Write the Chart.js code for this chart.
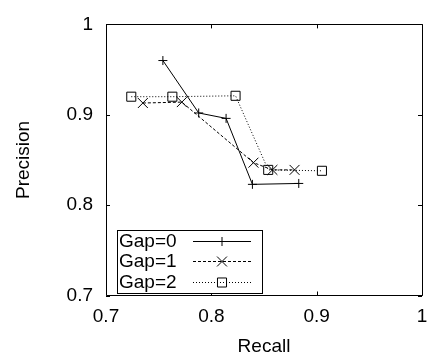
<!DOCTYPE html>
<html><head><meta charset="utf-8">
<script src="https://cdn.jsdelivr.net/npm/chart.js@4/dist/chart.umd.min.js"></script>
<style>html,body{margin:0;padding:0;background:#fff}#wrap{width:438px;height:358px}</style>
</head><body><div id="wrap"><canvas id="c" width="438" height="358"></canvas></div>
<script>
const seriesNames = ['Gap=0', 'Gap=1', 'Gap=2'];
const gap0Recall = [0.754, 0.788, 0.814, 0.839, 0.883];
const gap0Precision = [0.960, 0.902, 0.896, 0.823, 0.824];
const gap1Recall = [0.735, 0.772, 0.840, 0.858, 0.879];
const gap1Precision = [0.913, 0.914, 0.847, 0.839, 0.839];
const gap2Recall = [0.724, 0.763, 0.823, 0.854, 0.905];
const gap2Precision = [0.920, 0.920, 0.921, 0.839, 0.838];
const xTickValues = [0.7, 0.8, 0.9, 1.0];
const xTickLabels = ['0.7', '0.8', '0.9', '1'];
const yTickValues = [0.7, 0.8, 0.9, 1.0];
const yTickLabels = ['0.7', '0.8', '0.9', '1'];

const FONT = "'Liberation Sans', Arial, Helvetica, sans-serif";
const toPts = (xs, ys) => xs.map((x, i) => ({x: x, y: ys[i]}));

const styles = [
  {dash: [], pointStyle: 'cross', radius: 4.5},
  {dash: [3, 2], pointStyle: 'crossRot', radius: 7},
  {dash: [1, 2], pointStyle: 'rect', radius: 6.4}
];
const seriesData = [
  toPts(gap0Recall, gap0Precision),
  toPts(gap1Recall, gap1Precision),
  toPts(gap2Recall, gap2Precision)
];

const datasets = seriesNames.map((name, i) => ({
  label: name,
  data: seriesData[i],
  showLine: true,
  borderColor: '#000',
  borderWidth: 1,
  borderDash: styles[i].dash,
  pointStyle: styles[i].pointStyle,
  pointRadius: styles[i].radius,
  pointHoverRadius: styles[i].radius,
  pointBorderColor: '#000',
  pointBackgroundColor: 'rgba(0,0,0,0)',
  pointBorderWidth: 1,
  tension: 0,
  fill: false
}));

const framePlugin = {
  id: 'frame',
  afterDraw(chart) {
    const ctx = chart.ctx, a = chart.chartArea;
    const xs = chart.scales.x, ys = chart.scales.y;
    ctx.save();
    ctx.strokeStyle = '#000';
    ctx.lineWidth = 1;
    ctx.setLineDash([]);
    ctx.beginPath();
    ctx.rect(Math.round(a.left) + 0.5, Math.round(a.top) + 0.5, Math.round(a.right - a.left), Math.round(a.bottom - a.top));
    ctx.stroke();
    const tl = 4;
    ctx.beginPath();
    xTickValues.forEach(v => {
      const px = Math.round(xs.getPixelForValue(v)) + 0.5;
      ctx.moveTo(px, a.bottom); ctx.lineTo(px, a.bottom - tl);
      ctx.moveTo(px, a.top); ctx.lineTo(px, a.top + tl);
    });
    yTickValues.forEach(v => {
      const py = Math.round(ys.getPixelForValue(v)) + 0.5;
      ctx.moveTo(a.left, py); ctx.lineTo(a.left + tl, py);
      ctx.moveTo(a.right, py); ctx.lineTo(a.right - tl, py);
    });
    ctx.stroke();

    // legend
    const bx = 117.5, by = 230.5, bw = 145, bh = 63;
    ctx.fillStyle = '#fff';
    ctx.fillRect(bx, by, bw, bh);
    ctx.strokeRect(bx, by, bw, bh);
    ctx.font = '19px ' + FONT;
    ctx.textBaseline = 'middle';
    ctx.textAlign = 'left';
    chart.data.datasets.forEach((ds, i) => {
      const cy = 240.5 + i * 20.5;
      ctx.fillStyle = '#000';
      ctx.fillText(ds.label, 119, cy + 1);
      ctx.setLineDash(ds.borderDash);
      ctx.beginPath();
      ctx.moveTo(193, Math.round(cy) + 0.5);
      ctx.lineTo(251, Math.round(cy) + 0.5);
      ctx.stroke();
      ctx.setLineDash([]);
      ctx.fillStyle = 'rgba(0,0,0,0)';
      Chart.helpers.drawPoint(ctx, {
        pointStyle: ds.pointStyle, radius: ds.pointRadius, borderWidth: 1, rotation: 0
      }, 222, Math.round(cy) + 0.5);
    });
    ctx.restore();
  }
};

new Chart(document.getElementById('c'), {
  type: 'scatter',
  data: {datasets: datasets},
  plugins: [framePlugin],
  options: {
    responsive: false,
    animation: false,
    events: [],
    layout: {padding: {left: 0, right: 16, top: 13, bottom: 0}},
    plugins: {legend: {display: false}, tooltip: {enabled: false}},
    scales: {
      x: {
        type: 'linear', min: 0.7, max: 1.0,
        grid: {display: false, drawTicks: false},
        border: {display: false},
        afterBuildTicks: s => { s.ticks = xTickValues.map(v => ({value: v})); },
        afterFit: s => { s.height = 62.5; },
        ticks: {
          font: {family: FONT, size: 19}, color: '#000', padding: 10, maxRotation: 0,
          callback: (v, i) => xTickLabels[i]
        },
        title: {display: true, text: 'Recall', color: '#000', font: {family: FONT, size: 19}, padding: {top: 0, bottom: 0}}
      },
      y: {
        type: 'linear', min: 0.7, max: 1.0,
        grid: {display: false, drawTicks: false},
        border: {display: false},
        afterBuildTicks: s => { s.ticks = yTickValues.map(v => ({value: v})); },
        afterFit: s => { s.width = 106; },
        ticks: {
          font: {family: FONT, size: 19}, color: '#000', padding: 13,
          callback: (v, i) => yTickLabels[i]
        },
        title: {display: true, text: 'Precision', color: '#000', font: {family: FONT, size: 19}, padding: {top: 12, bottom: 0}}
      }
    }
  }
});
</script></body></html>
